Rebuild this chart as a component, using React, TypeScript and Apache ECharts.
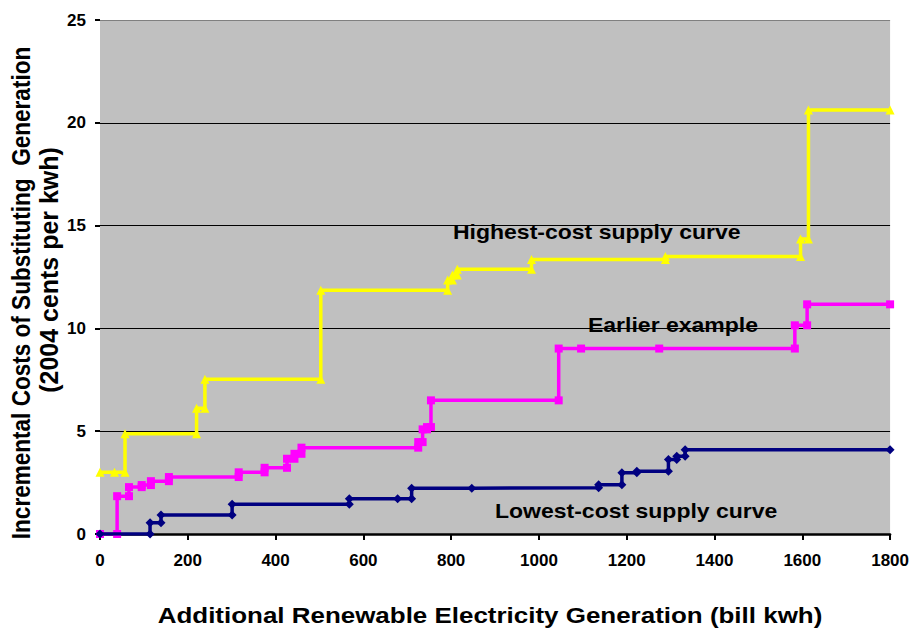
import React, { useEffect, useRef } from "react";
import * as echarts from "echarts";

// ---- data (x: bill kwh, y: cents per kwh), corner points of each step curve ----
const highestCost: [number, number][] = [
  [0, 3.0], [33, 3.0], [57, 3.0], [57, 4.88], [220, 4.88], [220, 6.12], [239, 6.12],
  [239, 7.53], [503, 7.53], [503, 11.86], [792, 11.86], [792, 12.35], [803, 12.35],
  [803, 12.6], [814, 12.6], [814, 12.88], [983, 12.88], [983, 13.35], [1288, 13.35],
  [1288, 13.5], [1596, 13.5], [1596, 14.35], [1614, 14.35], [1614, 20.62], [1800, 20.62],
];
const earlierExample: [number, number][] = [
  [0, 0], [39, 0], [39, 1.84], [66, 1.84], [66, 2.28], [95, 2.28], [95, 2.38], [116, 2.38],
  [116, 2.57], [157, 2.57], [157, 2.77], [316, 2.77], [316, 3.0], [375, 3.0], [375, 3.22],
  [426, 3.22], [426, 3.66], [443, 3.66], [443, 3.9], [459, 3.9], [459, 4.2], [725, 4.2],
  [725, 4.47], [735, 4.47], [735, 5.09], [745, 5.09], [745, 5.2], [754, 5.2], [754, 6.5],
  [1045, 6.5], [1045, 9.02], [1096, 9.02], [1274, 9.02], [1583, 9.02], [1583, 10.15],
  [1611, 10.15], [1611, 11.17], [1800, 11.17],
];
const lowestCost: [number, number][] = [
  [0, 0], [114, 0], [114, 0.55], [139, 0.55], [139, 0.92], [301, 0.92], [301, 1.45],
  [568, 1.45], [568, 1.71], [678, 1.71], [710, 1.71], [710, 2.23], [847, 2.23],
  [1136, 2.25], [1136, 2.4], [1189, 2.4], [1189, 2.98], [1223, 2.98], [1223, 3.05],
  [1295, 3.05], [1295, 3.62], [1314, 3.62], [1314, 3.78], [1333, 3.78], [1333, 4.1],
  [1800, 4.1],
];

const seriesNames = ["Highest-cost supply curve", "Earlier example", "Lowest-cost supply curve"];
const xAxisTitle = "Additional Renewable Electricity Generation (bill kwh)";
const yAxisTitle1 = "Incremental Costs of Substituting  Generation";
const yAxisTitle2 = "(2004 cents per kwh)";
const xMin = 0, xMax = 1800, xStep = 200;
const yMin = 0, yMax = 25, yStep = 5;

export default function App() {
  const ref = useRef<HTMLDivElement>(null);
  useEffect(() => {
    if (!ref.current) return;
    const chart = echarts.init(ref.current, null, { renderer: "svg" });
    const font = "Liberation Sans, Arial, sans-serif";
    const label = (text: string, x: number, y: number, size: number, sx: number) => ({
      type: "text",
      x,
      y,
      scaleX: sx,
      style: {
        text,
        fill: "#000",
        fontFamily: font,
        fontWeight: "bold",
        fontSize: size,
        align: "left",
        verticalAlign: "middle",
        textAlign: "left",
        textVerticalAlign: "middle",
      },
      z: 100,
    });
    chart.setOption({
      animation: false,
      backgroundColor: "#ffffff",
      grid: {
        left: 100,
        right: 19,
        top: 20,
        bottom: 94,
        show: true,
        backgroundColor: "#C0C0C0",
        borderWidth: 0,
      },
      xAxis: {
        type: "value",
        min: xMin,
        max: xMax,
        interval: xStep,
        axisLine: { show: true, onZero: false, lineStyle: { color: "#000", width: 2.5 } },
        axisTick: { show: true, length: 6, lineStyle: { color: "#000", width: 2 } },
        axisLabel: {
          color: "#000",
          fontFamily: font,
          fontWeight: "bold",
          fontSize: 17,
          margin: 18,
          formatter: (v: number) => String(v),
        },
        splitLine: { show: false },
      },
      yAxis: {
        type: "value",
        min: yMin,
        max: yMax,
        interval: yStep,
        axisLine: { show: false },
        axisTick: { show: true, length: 5, lineStyle: { color: "#000", width: 2 } },
        axisLabel: {
          color: "#000",
          fontFamily: font,
          fontWeight: "bold",
          fontSize: 17,
          margin: 14,
          formatter: (v: number) => String(v),
        },
        splitLine: {
          show: true,
          lineStyle: { color: ["#000", "#000", "#000", "#000", "#000", "#808080"], width: 1 },
        },
      },
      series: [
        {
          name: seriesNames[0],
          type: "line",
          data: highestCost,
          symbol: "triangle",
          symbolSize: 9,
          lineStyle: { color: "#FFFF00", width: 3.5 },
          itemStyle: { color: "#FFFF00" },
          z: 3,
        },
        {
          name: seriesNames[1],
          type: "line",
          data: earlierExample,
          symbol: "rect",
          symbolSize: 8,
          lineStyle: { color: "#FF00FF", width: 3.5 },
          itemStyle: { color: "#FF00FF" },
          z: 4,
        },
        {
          name: seriesNames[2],
          type: "line",
          data: lowestCost,
          symbol: "diamond",
          symbolSize: 9,
          lineStyle: { color: "#000080", width: 3.5 },
          itemStyle: { color: "#000080" },
          z: 5,
        },
      ],
      graphic: [
        label(seriesNames[0], 453, 233, 19.5, 1.18),
        label(seriesNames[1], 588, 326, 19.5, 1.18),
        label(seriesNames[2], 495, 512, 19.5, 1.18),
        {
          type: "text",
          x: 490,
          y: 615,
          scaleX: 1.18,
          style: {
            text: xAxisTitle,
            fill: "#000",
            fontFamily: font,
            fontWeight: "bold",
            fontSize: 22,
            align: "center",
            verticalAlign: "middle",
            textAlign: "center",
            textVerticalAlign: "middle",
          },
        },
        {
          type: "text",
          x: 21,
          y: 293,
          rotation: Math.PI / 2,
          scaleX: 0.94,
          scaleY: 1.05,
          style: {
            text: yAxisTitle1,
            fill: "#000",
            fontFamily: font,
            fontWeight: "bold",
            fontSize: 24,
            align: "center",
            verticalAlign: "middle",
            textAlign: "center",
            textVerticalAlign: "middle",
          },
        },
        {
          type: "text",
          x: 49,
          y: 270,
          rotation: Math.PI / 2,
          scaleX: 1.04,
          scaleY: 1.05,
          style: {
            text: yAxisTitle2,
            fill: "#000",
            fontFamily: font,
            fontWeight: "bold",
            fontSize: 24,
            align: "center",
            verticalAlign: "middle",
            textAlign: "center",
            textVerticalAlign: "middle",
          },
        },
      ],
    });
    return () => chart.dispose();
  }, []);
  return (
    <div
      ref={ref}
      style={{ position: "fixed", left: 0, top: 0, width: 912, height: 628 }}
    />
  );
}
